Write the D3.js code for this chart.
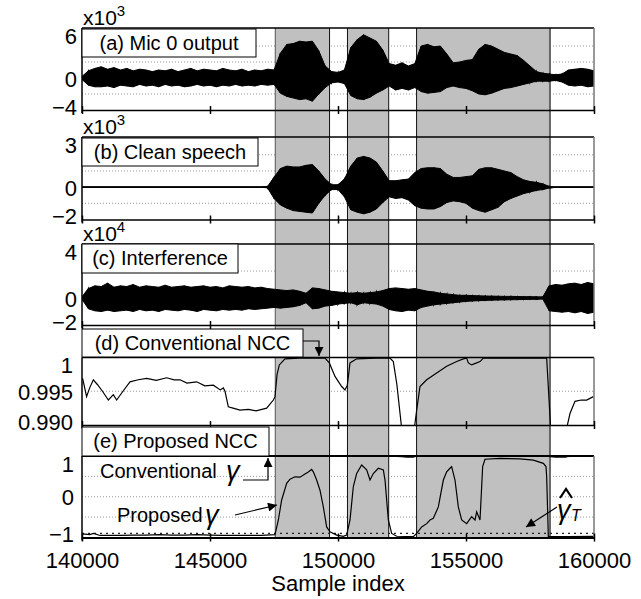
<!DOCTYPE html>
<html>
<head>
<meta charset="utf-8">
<script src="https://cdn.jsdelivr.net/npm/d3@7"></script>
<style>
body { margin: 0; background: #fff; }
text { font-family: "Liberation Sans", Arial, sans-serif; fill: #000; }
</style>
</head>
<body>
<div id="chart"></div>
<script>
// ---- data ----
var xTicks = [140000, 145000, 150000, 155000, 160000];
var regions = [[147550, 149670], [150370, 151980], [153070, 158280]];

// waveform envelopes, one value every 250 samples from 140000
var envStart = 140000, envStep = 250;
var micUp = [0.2,0.9,1.2,1.4,1.1,1.3,1.0,1.2,0.9,1.1,
             1.0,0.8,1.0,0.9,1.1,0.8,1.0,1.2,0.9,1.1,
             1.0,0.9,1.2,1.0,0.9,1.1,0.8,1.0,0.9,1.1,
             1.0,3.1,4.2,4.3,4.6,4.5,4.6,3.4,1.5,0.8,
             0.7,1.0,3.8,4.8,5.4,5.0,4.6,3.5,1.8,1.6,
             1.9,1.5,1.8,4.0,4.2,3.9,4.0,3.0,1.9,2.0,
             2.2,2.3,3.6,4.2,4.0,3.6,3.2,3.0,2.8,2.2,
             1.5,0.8,0.6,0.5,0.4,0.5,1.0,1.1,1.2,1.1,
             0.9];
var micLo = [-0.2,-0.9,-1.1,-1.1,-1.0,-1.2,-0.9,-1.0,-1.1,-0.8,
             -1.0,-0.9,-1.1,-0.8,-1.0,-0.9,-1.1,-1.0,-0.8,-1.0,
             -0.9,-1.1,-0.9,-1.0,-0.8,-1.0,-0.9,-1.0,-0.8,-0.9,
             -0.8,-1.9,-2.3,-2.5,-2.7,-2.6,-2.9,-2.0,-1.2,-0.6,
             -0.5,-0.7,-2.2,-2.6,-2.7,-2.4,-1.9,-1.5,-1.0,-1.5,
             -1.3,-1.5,-1.2,-1.7,-1.9,-1.8,-1.7,-1.2,-1.0,-1.2,
             -1.3,-1.6,-2.0,-2.1,-1.9,-1.6,-1.3,-1.2,-1.0,-0.8,
             -0.6,-0.4,-0.4,-0.4,-0.3,-0.5,-0.9,-1.0,-0.9,-1.1,
             -1.0];
var cleanUp = [0,0,0,0,0,0,0,0,0,0,
               0,0,0,0,0,0,0,0,0,0,
               0,0,0,0,0,0,0,0,0,0.05,
               0.6,1.15,1.3,1.25,1.25,1.35,1.4,1.0,0.5,0.15,
               0.15,0.5,1.3,1.8,1.9,1.8,1.55,1.0,0.4,0.4,
               0.45,0.5,0.9,1.15,1.2,1.2,1.15,0.8,0.6,0.6,
               0.65,0.7,1.1,1.2,1.2,1.1,1.0,0.9,0.65,0.45,
               0.35,0.3,0.2,0.05,0,0,0,0,0,0,
               0];
var cleanLo = [0,0,0,0,0,0,0,0,0,0,
               0,0,0,0,0,0,0,0,0,0,
               0,0,0,0,0,0,0,0,0,-0.05,
               -0.7,-1.1,-1.3,-1.45,-1.5,-1.55,-1.6,-1.0,-0.5,-0.15,
               -0.15,-0.6,-1.4,-1.55,-1.65,-1.55,-1.35,-0.95,-0.6,-0.7,
               -0.65,-0.8,-1.15,-1.3,-1.35,-1.35,-1.2,-0.95,-0.85,-0.9,
               -1.0,-1.3,-1.45,-1.55,-1.4,-1.25,-0.9,-0.7,-0.55,-0.4,
               -0.3,-0.2,-0.15,-0.05,0,0,0,0,0,0,
               0];
var intfUp = [0.1,0.7,0.9,0.85,1.1,0.8,0.9,0.85,1.0,0.8,
              0.9,0.85,0.8,0.95,0.8,0.85,0.9,0.8,0.85,0.9,
              0.8,0.85,0.75,0.9,0.85,0.8,0.85,0.75,0.8,0.7,
              0.65,0.6,0.55,0.6,0.5,0.35,0.75,0.7,0.6,0.5,
              0.45,0.4,0.35,0.4,0.35,0.4,0.45,0.55,0.7,0.75,
              0.7,0.65,0.7,0.6,0.5,0.45,0.35,0.3,0.25,0.2,
              0.2,0.18,0.16,0.15,0.14,0.13,0.12,0.12,0.11,0.1,
              0.1,0.09,0.08,0.9,1.0,0.95,1.05,1.1,1.0,1.15,
              1.05];
var intfLo = [-0.1,-0.8,-0.95,-1.0,-0.9,-1.0,-0.95,-0.9,-1.0,-0.85,
              -0.95,-0.9,-1.0,-0.85,-0.9,-0.95,-0.85,-0.9,-1.0,-0.85,
              -0.9,-0.95,-0.85,-0.9,-0.85,-0.9,-0.8,-0.85,-0.8,-0.75,
              -0.7,-0.75,-0.7,-0.65,-0.55,-0.35,-0.8,-0.75,-0.6,-0.55,
              -0.45,-0.4,-0.35,-0.5,-0.35,-0.4,-0.45,-0.6,-0.85,-0.95,
              -1.0,-0.9,-0.95,-0.7,-0.6,-0.5,-0.45,-0.4,-0.35,-0.3,
              -0.25,-0.22,-0.2,-0.18,-0.16,-0.15,-0.14,-0.13,-0.12,-0.11,
              -0.1,-0.1,-0.08,-0.95,-1.0,-1.05,-1.0,-1.1,-1.0,-1.15,
              -1.05];

// conventional NCC [sample, value]
var convNcc = [[140000,0.9969],[140030,0.9968],[140180,0.9942],[140300,0.9955],[140443,0.9967],
  [140600,0.9960],[140800,0.9950],[141029,0.9937],[141224,0.9945],[141354,0.9937],
  [141600,0.9950],[141875,0.9964],[142200,0.9967],[142526,0.9969],[142900,0.9966],
  [143307,0.9970],[143600,0.9967],[143828,0.9967],[144100,0.9962],[144479,0.9964],
  [144800,0.9958],[145130,0.9959],[145400,0.9952],[145521,0.9955],[145586,0.9950],
  [145716,0.9927],[145900,0.9925],[146172,0.9922],[146500,0.9923],[146800,0.9921],
  [147214,0.9925],[147474,0.9937],[147539,0.9942],[147620,0.9975],[147708,0.9989],
  [147930,0.9998],[148500,0.9999],[149000,0.9999],[149492,0.9999],[149661,0.9992],
  [149883,0.9972],[150143,0.9957],[150273,0.9952],[150365,0.9959],[150469,0.9992],
  [150729,0.9998],[151500,0.9999],[152031,0.9999],[152161,0.9994],[152300,0.9960],
  [152487,0.9895],[152700,0.975],[152950,0.975],[152982,0.9895],[153073,0.9922],
  [153203,0.9957],[153464,0.9967],[153854,0.9977],[154245,0.9987],[154635,0.9994],
  [154896,0.9998],[155026,0.9999],[155091,0.9992],[155221,0.9989],[155417,0.9992],
  [155547,0.9994],[155677,0.9999],[156500,0.9999],[157500,0.9999],[158151,0.9999],
  [158307,0.9895],[158500,0.975],[158900,0.975],[158932,0.9895],[159062,0.9917],
  [159258,0.9935],[159500,0.9937],[159714,0.9937],[159974,0.9942]];

// proposed NCC [sample, value]
var propNcc = [[140000,-0.92],[140026,-0.91],[140300,-0.93],[140450,-0.90],[140700,-0.95],
  [141000,-0.95],[141500,-0.95],[142000,-0.94],[142500,-0.94],[143000,-0.93],
  [143500,-0.94],[144000,-0.94],[144500,-0.93],[145000,-0.94],[145500,-0.95],
  [146000,-0.95],[146500,-0.95],[147000,-0.95],[147539,-0.93],[147670,-0.57],
  [147799,-0.08],[147995,0.33],[148125,0.43],[148320,0.49],[148516,0.48],
  [148710,0.56],[148840,0.61],[148970,0.67],[149036,0.61],[149166,0.41],
  [149297,0.16],[149427,-0.25],[149557,-0.74],[149687,-0.86],[149948,-0.94],
  [150208,-0.97],[150339,-0.94],[150469,-0.57],[150599,0.25],[150729,0.57],
  [150924,0.78],[151120,0.66],[151250,0.41],[151380,0.57],[151576,0.70],
  [151771,0.66],[151836,0.41],[151966,-0.57],[152096,-0.90],[152292,-0.97],
  [152943,-0.98],[153073,-0.90],[153268,-0.74],[153464,-0.66],[153594,-0.57],
  [153724,-0.53],[153919,-0.25],[154115,0.41],[154245,0.61],[154375,0.70],
  [154440,0.74],[154570,0.41],[154700,-0.25],[154831,-0.57],[155026,-0.66],
  [155221,-0.49],[155352,-0.57],[155417,-0.37],[155547,-0.57],[155651,0.74],
  [155742,0.92],[156328,0.94],[157109,0.93],[157630,0.90],[158021,0.82],
  [158125,0.74],[158151,0.49],[158216,-0.98],[158932,-0.98],[159974,-0.97]];

var threshold = -0.90;

// ---- layout ----
var chart_width = 641, chart_height = 599;
var left = 82, right = 594;

var x = d3.scaleLinear().domain([140000, 160000]).range([left, right]);

var panels = [
  {top: 28,  bottom: 110,   domain: [-4, 6.25],   ticks: [6, 0, -4],   fmt: d3.format('d'), grid: [4, 2, -2],
   label: '(a) Mic 0 output', box: [29, 57, 256], exp: '3', lx: 77},
  {top: 137, bottom: 219.5, domain: [-2, 3.1],    ticks: [3, 0, -2],   fmt: d3.format('d'), grid: [2, 1, -1, 0],
   label: '(b) Clean speech', box: [138, 166, 258], exp: '3', lx: 77},
  {top: 244, bottom: 325,   domain: [-2, 4],      ticks: [4, 0, -2],   fmt: d3.format('d'), grid: [2],
   label: '(c) Interference', box: [244, 273, 238], exp: '4', lx: 77},
  {top: 357.5, bottom: 425, domain: [0.990, 1.0], ticks: [1, 0.995, 0.990], fmt: function(d){ return d === 1 ? '1' : d3.format('.3f')(d); }, grid: [0.995],
   label: '(d) Conventional NCC', box: [329, 357, 303], lx: 73},
  {top: 456, bottom: 537.5, domain: [-1, 1],      ticks: [1, 0, -1],   fmt: d3.format('d'), grid: [0.5, 0, -0.5],
   label: '(e) Proposed NCC', box: [427, 456, 269], lx: 74}
];
panels.forEach(function(p){
  p.y = d3.scaleLinear().domain(p.domain).range([p.bottom, p.top]);
});

var svg = d3.select('#chart')
            .append('svg')
            .attr('width', chart_width)
            .attr('height', chart_height);

var defs = svg.append('defs');
defs.append('marker')
    .attr('id', 'arrow')
    .attr('viewBox', '0 0 10 10')
    .attr('refX', 10).attr('refY', 5)
    .attr('markerWidth', 11).attr('markerHeight', 9)
    .attr('markerUnits', 'userSpaceOnUse')
    .attr('orient', 'auto')
    .append('path').attr('d', 'M0,0L10,5L0,10Z').attr('fill', '#000');

panels.forEach(function(p, i){
  defs.append('clipPath').attr('id', 'clip' + i)
      .append('rect')
      .attr('x', left).attr('y', p.top - 1)
      .attr('width', right - left).attr('height', p.bottom - p.top + 1);
});

// grid
panels.forEach(function(p){
  svg.append('g').selectAll('line')
     .data(p.grid)
     .enter().append('line')
     .attr('x1', left).attr('x2', right)
     .attr('y1', function(d){ return p.y(d); })
     .attr('y2', function(d){ return p.y(d); })
     .attr('stroke', '#999')
     .attr('stroke-width', 1)
     .attr('stroke-dasharray', '1,2');
});

// shaded speech regions
var shadeTop = panels[0].top, shadeBottom = panels[4].bottom;
svg.append('g').selectAll('rect')
   .data(regions)
   .enter().append('rect')
   .attr('x', function(d){ return x(d[0]); })
   .attr('width', function(d){ return x(d[1]) - x(d[0]); })
   .attr('y', shadeTop)
   .attr('height', shadeBottom - shadeTop)
   .attr('fill', '#c0c0c0');

var edges = [];
regions.forEach(function(r, i){
  edges.push({v: r[0], c: i === 0 ? '#555' : '#111', w: 1});
  edges.push({v: r[1], c: i === 2 ? '#666' : '#111', w: i === 2 ? 2 : 1});
});
svg.append('g').selectAll('line')
   .data(edges)
   .enter().append('line')
   .attr('x1', function(d){ return x(d.v); })
   .attr('x2', function(d){ return x(d.v); })
   .attr('y1', shadeTop).attr('y2', shadeBottom)
   .attr('stroke', function(d){ return d.c; })
   .attr('stroke-width', function(d){ return d.w; });

// zero line of clean speech
svg.append('line')
   .attr('x1', left).attr('x2', right)
   .attr('y1', panels[1].y(0)).attr('y2', panels[1].y(0))
   .attr('stroke', '#000').attr('stroke-width', 1.2);

// waveforms: envelope area plus a min/max zigzag for texture
var waves = [[micUp, micLo], [cleanUp, cleanLo], [intfUp, intfLo]];
waves.forEach(function(w, i){
  var p = panels[i];
  var area = d3.area()
               .x(function(d, j){ return x(envStart + j * envStep); })
               .y0(function(d, j){ return p.y(w[1][j]); })
               .y1(function(d){ return p.y(d); });
  svg.append('path')
     .datum(w[0])
     .attr('d', area)
     .attr('clip-path', 'url(#clip' + i + ')')
     .attr('fill', '#000')
     .attr('stroke', '#000')
     .attr('stroke-width', 1);
  var zig = [];
  w[0].forEach(function(v, j){
    var sx = envStart + j * envStep;
    zig.push([sx, v], [sx, w[1][j]]);
  });
  svg.append('path')
     .datum(zig)
     .attr('d', d3.line().x(function(d){ return x(d[0]); }).y(function(d){ return p.y(d[1]); }))
     .attr('clip-path', 'url(#clip' + i + ')')
     .attr('fill', 'none')
     .attr('stroke', '#000')
     .attr('stroke-width', 1.2);
});

// NCC curves
function nccLine(p){
  return d3.line().x(function(d){ return x(d[0]); }).y(function(d){ return p.y(d[1]); });
}
svg.append('path').datum(convNcc)
   .attr('d', nccLine(panels[3]))
   .attr('clip-path', 'url(#clip3)')
   .attr('fill', 'none').attr('stroke', '#000').attr('stroke-width', 1.2);
svg.append('path').datum(convNcc)
   .attr('d', nccLine(panels[4]))
   .attr('clip-path', 'url(#clip4)')
   .attr('fill', 'none').attr('stroke', '#000').attr('stroke-width', 1.5);
svg.append('line')
   .attr('x1', left).attr('x2', right)
   .attr('y1', panels[4].y(threshold)).attr('y2', panels[4].y(threshold))
   .attr('stroke', '#222').attr('stroke-width', 1.3)
   .attr('stroke-dasharray', '2,4');
svg.append('path').datum(propNcc)
   .attr('d', nccLine(panels[4]))
   .attr('clip-path', 'url(#clip4)')
   .attr('fill', 'none').attr('stroke', '#000').attr('stroke-width', 1.2);

// frames, axes, labels
panels.forEach(function(p, i){
  var g = svg.append('g');
  var last = i === panels.length - 1;
  g.append('line').attr('x1', left).attr('x2', right)
   .attr('y1', p.top).attr('y2', p.top)
   .attr('stroke', '#000').attr('stroke-width', last ? 2 : 1.5);
  g.append('line').attr('x1', right).attr('x2', right)
   .attr('y1', p.top).attr('y2', p.bottom)
   .attr('stroke', '#777').attr('stroke-width', 1.5);
  g.append('line').attr('x1', left).attr('x2', left)
   .attr('y1', p.top).attr('y2', p.bottom + 3)
   .attr('stroke', '#000').attr('stroke-width', 1.5);

  var axis = d3.axisBottom(x)
               .tickValues(xTicks)
               .tickSizeInner(4)
               .tickSizeOuter(0)
               .tickFormat(last ? d3.format('d') : '');
  var ax = g.append('g')
            .attr('transform', 'translate(0,' + p.bottom + ')')
            .call(axis);
  ax.select('.domain').attr('stroke', '#000').attr('stroke-width', last ? 2 : 1.5);
  ax.selectAll('.tick line').attr('y1', -4).attr('stroke', '#000').attr('stroke-width', 1.5);
  ax.selectAll('.tick text')
    .attr('y', 30).attr('dy', null)
    .attr('font-size', 22)
    .attr('font-family', '"Liberation Sans", Arial, sans-serif')
    .attr('fill', '#000');

  // y tick labels
  g.selectAll('text.ylab')
   .data(p.ticks)
   .enter().append('text')
   .attr('class', 'ylab')
   .attr('x', p.lx)
   .attr('y', function(d){ return Math.max(p.top + 8, Math.min(p.bottom - 3, p.y(d) + 1)); })
   .attr('dy', '0.35em')
   .attr('text-anchor', 'end')
   .attr('font-size', 22)
   .text(p.fmt);

  // exponent
  if (p.exp) {
    var t = g.append('text').attr('x', 83).attr('y', p.top - 3).attr('font-size', 21).text('x10');
    t.append('tspan').attr('dy', -9).attr('font-size', 15).text(p.exp);
  }

  // label box
  g.append('rect')
   .attr('x', left).attr('y', p.box[0])
   .attr('width', p.box[2] - left).attr('height', p.box[1] - p.box[0])
   .attr('fill', '#fff').attr('stroke', '#000').attr('stroke-width', 1);
  g.append('text')
   .attr('x', (left + p.box[2]) / 2)
   .attr('y', p.box[0] + 21)
   .attr('text-anchor', 'middle')
   .attr('font-size', 20)
   .text(p.label);
});

svg.append('text')
   .attr('x', (left + right) / 2)
   .attr('y', 591)
   .attr('text-anchor', 'middle')
   .attr('font-size', 22)
   .text('Sample index');

// annotations
var ann = svg.append('g');
ann.append('path')
   .attr('d', 'M303,341H319V347')
   .attr('fill', 'none').attr('stroke', '#000').attr('stroke-width', 1.2);
ann.append('path')
   .attr('d', 'M319,347V356')
   .attr('stroke', '#000').attr('stroke-width', 1.2)
   .attr('marker-end', 'url(#arrow)');

ann.append('text').attr('x', 100).attr('y', 478).attr('font-size', 20).text('Conventional');
ann.append('text').attr('x', 226).attr('y', 480)
   .attr('font-size', 27).attr('font-style', 'italic')
   .attr('font-family', '"Liberation Serif", "DejaVu Serif", serif')
   .text('γ');
ann.append('path')
   .attr('d', 'M243,480H268V458')
   .attr('fill', 'none').attr('stroke', '#000').attr('stroke-width', 1.2)
   .attr('marker-end', 'url(#arrow)');

ann.append('text').attr('x', 117).attr('y', 522).attr('font-size', 20).text('Proposed');
ann.append('text').attr('x', 205).attr('y', 524)
   .attr('font-size', 27).attr('font-style', 'italic')
   .attr('font-family', '"Liberation Serif", "DejaVu Serif", serif')
   .text('γ');
ann.append('path')
   .attr('d', 'M235,515L277,505')
   .attr('stroke', '#000').attr('stroke-width', 1.2)
   .attr('marker-end', 'url(#arrow)');

ann.append('text').attr('x', 557).attr('y', 519)
   .attr('font-size', 27).attr('font-style', 'italic')
   .attr('font-family', '"Liberation Serif", "DejaVu Serif", serif')
   .text('γ');
ann.append('path')
   .attr('d', 'M560,498L566,489L572,498')
   .attr('fill', 'none').attr('stroke', '#000').attr('stroke-width', 2.2);
ann.append('text').attr('x', 571).attr('y', 521)
   .attr('font-size', 16).attr('font-style', 'italic')
   .text('T');
ann.append('path')
   .attr('d', 'M557,507L526,527')
   .attr('stroke', '#000').attr('stroke-width', 1.2)
   .attr('marker-end', 'url(#arrow)');
</script>
</body>
</html>
